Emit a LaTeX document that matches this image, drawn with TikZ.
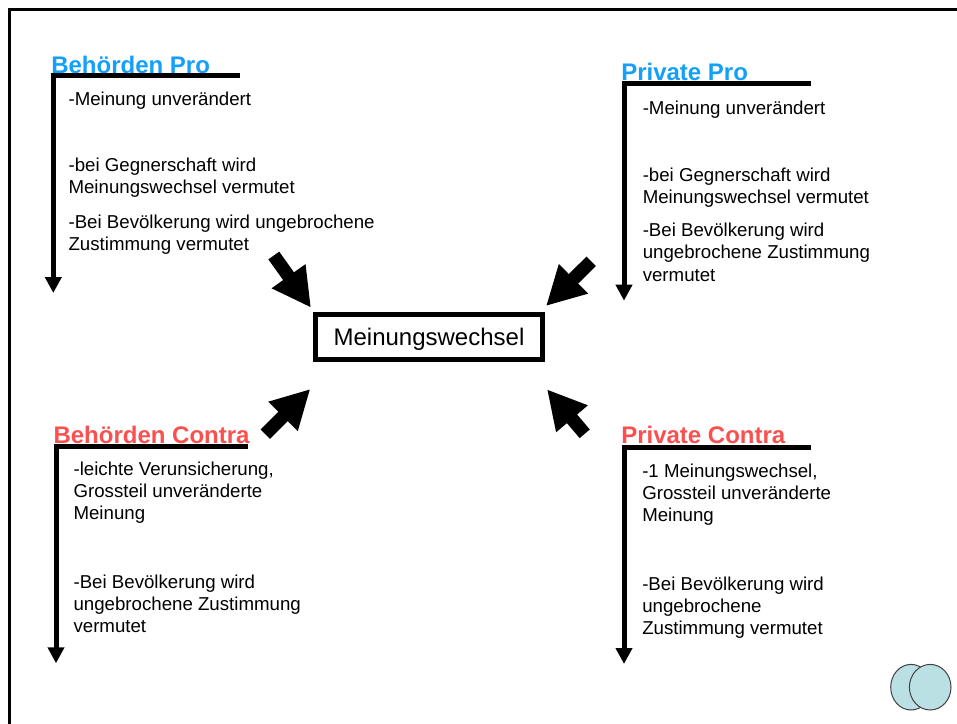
\documentclass[tikz,border=0pt]{standalone}
\usepackage{fontspec}
\setmainfont{Liberation Sans}
\usepackage{xcolor}
\definecolor{blaupro}{RGB}{20,160,250}
\definecolor{rotcontra}{RGB}{250,80,80}
\definecolor{kreisblau}{RGB}{187,224,227}
\usetikzlibrary{arrows.meta}
\tikzset{
  titel/.style={anchor=base west,inner sep=0pt,font=\fontsize{18}{20}\selectfont\bfseries},
  info/.style={anchor=north west,inner sep=0pt,align=left,font=\fontsize{14}{16.7}\selectfont,execute at begin node=\rule{0pt}{11pt}},
  winkel/.style={line width=3.75pt,-{Triangle[length=12pt,width=12pt]}},
  pfeil/.style={line width=10pt,-{Triangle[length=29pt,width=29pt]}}
}
\begin{document}
\begin{tikzpicture}[x=0.75pt,y=-0.75pt]
 \useasboundingbox (0,0) rectangle (957,724);
 \path[fill=white] (0,0) rectangle (957,724);
 \draw[line width=1.75pt] (9.5,740)--(9.5,9.5)--(970,9.5);

 %%%% Behoerden Pro
 \node[titel,text=blaupro] (bp) at (51,73.7) {Behörden Pro};
 \coordinate (bpa) at (240,76);
 \coordinate (bpb) at (53.3,76);
 \coordinate (bpc) at (53.3,293);
 \draw[winkel] (bpa)--(bpb)--(bpc);
 \node[info] (bp1) at (68.3,90.3) {-Meinung unverändert};
 \node[info] (bp2) at (68.3,157.5) {-bei Gegnerschaft wird\\Meinungswechsel vermutet};
 \node[info] (bp3) at (68.3,214.3) {-Bei Bevölkerung wird ungebrochene\\Zustimmung vermutet};

 %%%% Private Pro
 \node[titel,text=blaupro] (pp) at (621,80.3) {Private Pro};
 \coordinate (ppa) at (810.7,83.7);
 \coordinate (ppb) at (624,83.7);
 \coordinate (ppc) at (624,300.7);
 \draw[winkel] (ppa)--(ppb)--(ppc);
 \node[info] (pp1) at (642.5,99.3) {-Meinung unverändert};
 \node[info] (pp2) at (642.5,167.5) {-bei Gegnerschaft wird\\Meinungswechsel vermutet};
 \node[info] (pp3) at (642.5,222.8) {-Bei Bevölkerung wird\\ungebrochene Zustimmung\\vermutet};

 %%%% Behoerden Contra
 \node[titel,text=rotcontra] (bc) at (53.3,443) {Behörden Contra};
 \coordinate (bca) at (247.7,446);
 \coordinate (bcb) at (56,446);
 \coordinate (bcc) at (56,663.3);
 \draw[winkel] (bca)--(bcb)--(bcc);
 \node[info] (bc1) at (73.3,461.6) {-leichte Verunsicherung,\\Grossteil unveränderte\\Meinung};
 \node[info] (bc2) at (73.3,574.6) {-Bei Bevölkerung wird\\ungebrochene Zustimmung\\vermutet};

 %%%% Private Contra
 \node[titel,text=rotcontra] (pc) at (621,443.3) {Private Contra};
 \coordinate (pca) at (810.7,447);
 \coordinate (pcb) at (624,447);
 \coordinate (pcc) at (624,664);
 \draw[winkel] (pca)--(pcb)--(pcc);
 \node[info] (pc1) at (642,463.5) {-1 Meinungswechsel,\\Grossteil unveränderte\\Meinung};
 \node[info] (pc2) at (642,576.3) {-Bei Bevölkerung wird\\ungebrochene\\Zustimmung vermutet};

 %%%% Mitte
 \node[draw,line width=4pt,minimum width=170.5pt,minimum height=33.3pt,inner sep=0pt,text depth=0pt,font=\fontsize{18}{20}\selectfont] (mw) at (429,337) {Meinungswechsel};
 \coordinate (p1) at (273.8,255.5);
 \coordinate (p2) at (591.2,261.3);
 \coordinate (p3) at (265.3,434.2);
 \coordinate (p4) at (584.7,433.8);
 \coordinate (q1) at (311,307.7);
 \coordinate (q2) at (546,306);
 \coordinate (q3) at (310.3,389);
 \coordinate (q4) at (547,389.3);
 \draw[pfeil] (p1)--(q1);
 \draw[pfeil] (p2)--(q2);
 \draw[pfeil] (p3)--(q3);
 \draw[pfeil] (p4)--(q4);

 %%%% Kreise
 \draw[fill=kreisblau,draw=black!75,line width=0.75pt] (911,687.2) ellipse (20.3 and 22.8);
 \draw[fill=kreisblau,draw=black!75,line width=0.75pt] (930.2,687.2) ellipse (20.8 and 22.8);
\end{tikzpicture}
\end{document}
